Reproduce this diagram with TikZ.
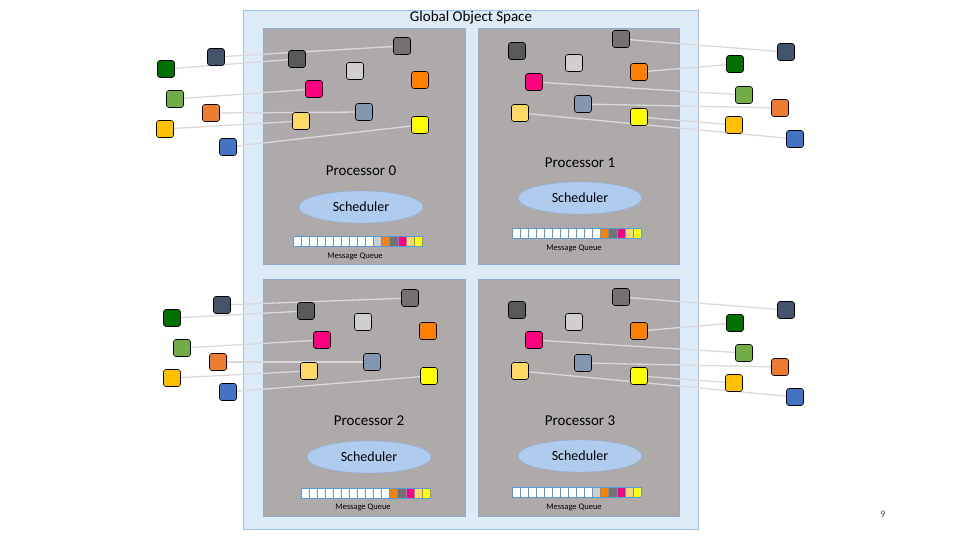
\documentclass[tikz,border=0pt]{standalone}
\usepackage{fontspec}
\setmainfont{Carlito}
\usetikzlibrary{shapes.geometric}
\pgfdeclarelayer{back}\pgfdeclarelayer{mid}
\pgfsetlayers{back,mid,main}
\begin{document}
\begin{tikzpicture}[x=1pt,y=-1pt]
\definecolor{cNavy}{HTML}{44546A}\definecolor{cGreen}{HTML}{007000}
\definecolor{cLgreen}{HTML}{70AD47}\definecolor{cOrB}{HTML}{ED7D31}
\definecolor{cAmber}{HTML}{FFC000}\definecolor{cBlue}{HTML}{4472C4}
\definecolor{cDgray}{HTML}{595959}\definecolor{cGray}{HTML}{767171}
\definecolor{cLgray}{HTML}{D0CECE}\definecolor{cOr}{HTML}{FF8000}
\definecolor{cMag}{HTML}{FF0080}\definecolor{cBg}{HTML}{8497B0}
\definecolor{cLy}{HTML}{FFD966}\definecolor{cYel}{HTML}{FFFF00}
\definecolor{cPanel}{HTML}{AEAAAA}\definecolor{cGlob}{HTML}{DDEBF7}
\definecolor{cGlobB}{HTML}{9DC3E6}\definecolor{cPanB}{HTML}{8FAACC}
\definecolor{cEll}{HTML}{AFCBEE}\definecolor{cEllB}{HTML}{8EB4E3}
\definecolor{cCell}{HTML}{5B9BD5}\definecolor{cLink}{HTML}{D9D9D9}
\tikzset{
  sq/.style={draw=black,line width=0.6pt,rounded corners=2.5pt,minimum size=17pt,inner sep=0pt},
  link/.style={draw=cLink,line width=1.3pt},
  panel/.style={draw=cPanB,fill=cPanel,line width=0.6pt,inner sep=0pt,anchor=north west},
  sched/.style={ellipse,draw=cEllB,fill=cEll,minimum width=124pt,minimum height=32pt,inner sep=0pt,font=\fontsize{14}{14}\selectfont},
  proc/.style={font=\fontsize{15}{15}\selectfont},
  mq/.style={font=\fontsize{8.5}{9}\selectfont},
  cell/.style={draw=cCell,line width=0.5pt}}
\useasboundingbox (0,0) rectangle (960,540);
\begin{pgfonlayer}{back}
\fill[white] (0,0) rectangle (960,540);
\node[draw=cGlobB,fill=cGlob,line width=0.8pt,minimum width=455pt,minimum height=519pt,inner sep=0pt,anchor=north west] (glob) at (243,10) {};
\node[panel,minimum width=202pt,minimum height=236pt] (p0) at (263,28) {};
\node[panel,minimum width=201pt,minimum height=236pt] (p1) at (478,28) {};
\node[panel,minimum width=202pt,minimum height=237pt] (p2) at (263,279) {};
\node[panel,minimum width=201pt,minimum height=237pt] (p3) at (478,279) {};
\end{pgfonlayer}
\node[font=\fontsize{15}{15}\selectfont] (title) at (471,18) {Global Object Space};
% labels
\node[proc] (t0) at (361,171) {Processor 0};
\node[sched] (s0) at (361,207) {Scheduler};
\node[mq] (m0) at (355,256) {Message Queue};
\node[proc] (t1) at (580,163) {Processor 1};
\node[sched] (s1) at (580,198) {Scheduler};
\node[mq] (m1) at (574,248) {Message Queue};
\node[proc] (t2) at (369,421) {Processor 2};
\node[sched] (s2) at (369,457) {Scheduler};
\node[mq] (m2) at (363,507) {Message Queue};
\node[proc] (t3) at (580,421) {Processor 3};
\node[sched] (s3) at (580,456) {Scheduler};
\node[mq] (m3) at (574,507) {Message Queue};
\node[font=\fontsize{10}{10}\selectfont,text=black!70] (pg) at (883,514) {9};
% queues
\newcommand{\mqueue}[3]{%
  \foreach \c [count=\i from 0] in {#3} {
    \filldraw[cell,fill=\c] ({#1+\i*8.06},#2) rectangle ({#1+(\i+1)*8.06},#2+10);}}
\mqueue{293}{236}{white,white,white,white,white,white,white,white,white,white,cLgray,cOr,cGray,cMag,cLy,cYel}
\mqueue{512}{228}{white,white,white,white,white,white,white,white,white,white,white,cOr,cGray,cMag,cLy,cYel}
\mqueue{301}{488}{white,white,white,white,white,white,white,white,white,white,white,cOr,cGray,cMag,cLy,cYel}
\mqueue{512}{487}{white,white,white,white,white,white,white,white,white,white,cLgray,cOr,cGray,cMag,cLy,cYel}
% squares
\newcommand{\sqr}[4]{\node[sq,fill=#2] (#1) at (#3,#4) {};}
% P0
\sqr{a0}{cNavy}{216}{57}\sqr{b0}{cGreen}{166}{69}\sqr{c0}{cLgreen}{175}{99}
\sqr{d0}{cOrB}{211}{113}\sqr{e0}{cAmber}{165}{129}\sqr{f0}{cBlue}{228}{147}
\sqr{g0}{cDgray}{297}{59}\sqr{h0}{cGray}{402}{46}\sqr{i0}{cLgray}{355}{71}
\sqr{j0}{cOr}{420}{80}\sqr{k0}{cMag}{314}{89}\sqr{l0}{cBg}{364}{112}
\sqr{m0q}{cLy}{301}{121}\sqr{n0}{cYel}{420}{125}
% P1
\sqr{a1}{cNavy}{786}{52}\sqr{b1}{cGreen}{735}{64}\sqr{c1}{cLgreen}{744}{95}
\sqr{d1}{cOrB}{780}{108}\sqr{e1}{cAmber}{734}{125}\sqr{f1}{cBlue}{795}{139}
\sqr{g1}{cDgray}{517}{51}\sqr{h1}{cGray}{621}{39}\sqr{i1}{cLgray}{574}{63}
\sqr{j1}{cOr}{639}{72}\sqr{k1}{cMag}{534}{82}\sqr{l1}{cBg}{583}{104}
\sqr{m1q}{cLy}{520}{113}\sqr{n1}{cYel}{639}{117}
% P2
\sqr{a2}{cNavy}{222}{305}\sqr{b2}{cGreen}{172}{318}\sqr{c2}{cLgreen}{182}{348}
\sqr{d2}{cOrB}{218}{362}\sqr{e2}{cAmber}{172}{378}\sqr{f2}{cBlue}{228}{392}
\sqr{g2}{cDgray}{306}{311}\sqr{h2}{cGray}{410}{298}\sqr{i2}{cLgray}{363}{322}
\sqr{j2}{cOr}{428}{331}\sqr{k2}{cMag}{322}{340}\sqr{l2}{cBg}{372}{362}
\sqr{m2q}{cLy}{309}{371}\sqr{n2}{cYel}{429}{376}
% P3
\sqr{a3}{cNavy}{786}{310}\sqr{b3}{cGreen}{735}{323}\sqr{c3}{cLgreen}{744}{353}
\sqr{d3}{cOrB}{780}{367}\sqr{e3}{cAmber}{734}{383}\sqr{f3}{cBlue}{795}{397}
\sqr{g3}{cDgray}{517}{310}\sqr{h3}{cGray}{621}{297}\sqr{i3}{cLgray}{574}{322}
\sqr{j3}{cOr}{639}{331}\sqr{k3}{cMag}{534}{340}\sqr{l3}{cBg}{583}{363}
\sqr{m3q}{cLy}{520}{371}\sqr{n3}{cYel}{639}{376}
% links
\begin{pgfonlayer}{mid}
\foreach \p in {0,2} {
  \draw[link] (a\p) -- (h\p);
  \draw[link] (b\p) -- (g\p);
  \draw[link] (c\p) -- (k\p);
  \draw[link] (d\p) -- (l\p);
  \draw[link] (e\p) -- (m\p q);
  \draw[link] (f\p) -- (n\p);
}
\foreach \p in {1,3} {
  \draw[link] (h\p) -- (a\p);
  \draw[link] (j\p) -- (b\p);
  \draw[link] (k\p) -- (c\p);
  \draw[link] (l\p) -- (d\p);
  \draw[link] (n\p) -- (e\p);
  \draw[link] (m\p q) -- (f\p);
}
\end{pgfonlayer}
\end{tikzpicture}
\end{document}
